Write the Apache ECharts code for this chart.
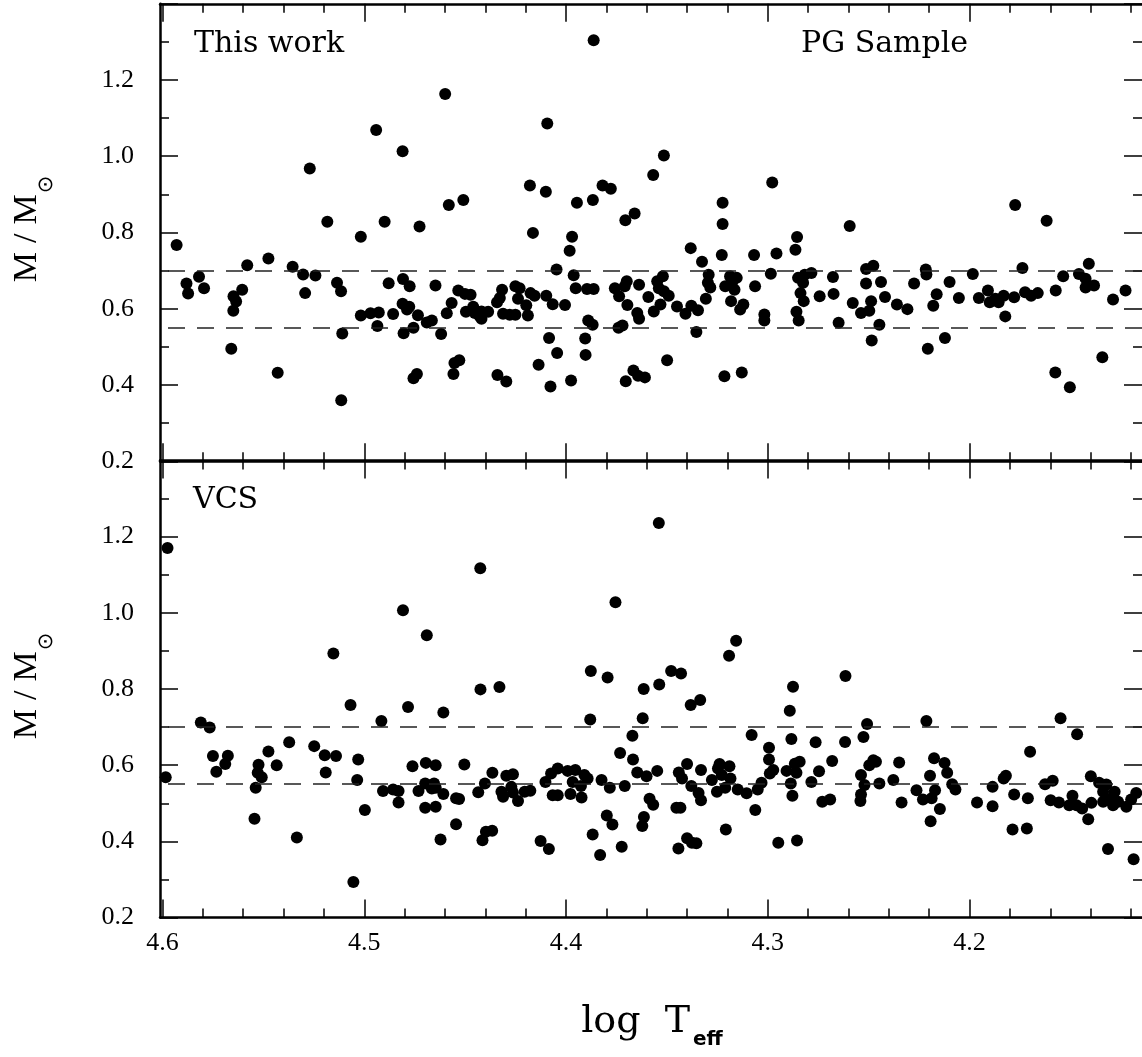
<!DOCTYPE html>
<html><head><meta charset="utf-8">
<script src="https://cdn.jsdelivr.net/npm/echarts@6/dist/echarts.min.js"></script>
<style>html,body{margin:0;padding:0;background:#fff}#chart{width:1142px;height:1057px}</style>
</head><body><div id="chart"></div>
<script>
// ---- data: top panel ("This work", PG sample) ----
const topTeff = [
4.5930,4.5881,4.5873,4.5819,4.5794,4.5580,4.5605,4.5648,4.5635,4.5649,4.5659,4.5475,4.5429,4.5355,4.5303,4.5242,4.5293,4.5270,4.5183,4.5135,4.5115,4.5109,4.5114,4.5017,4.5017,4.4969,4.4928,4.4935,4.4941,4.4899,4.4879,4.4857,
4.3863,4.4599,4.4093,4.4810,4.4179,4.4100,4.4581,4.4509,4.4726,4.4164,4.3946,4.3867,4.3819,4.3778,4.3970,4.3982,4.4047,4.3962,4.3952,4.3706,4.3660,
4.4808,4.4775,4.4810,4.4777,4.4788,4.4734,4.4805,4.4756,4.4647,4.4690,4.4665,4.4619,4.4591,4.4567,4.4534,4.4501,4.4473,4.4496,4.4460,4.4452,4.4427,4.4419,4.4386,4.4419,
4.4756,4.4739,4.4558,4.4553,4.4529,4.4340,4.4296,4.4317,4.4328,4.4342,4.4312,4.4279,4.4251,4.4189,4.4251,4.4230,4.4238,4.4197,4.4176,4.4156,4.4098,4.4066,4.4005,
4.4084,4.4044,4.4136,4.4077,4.3975,4.3905,4.3903,4.3896,4.3863,4.3890,4.3868,4.3758,4.3737,4.3709,4.3699,4.3696,4.3740,4.3720,4.3704,4.3666,4.3643,
4.3515,4.3568,4.2978,4.3224,4.3224,4.3228,4.3382,4.3326,4.3068,4.2957,4.2855,4.2863,4.2594,4.3638,4.3647,4.3638,4.3592,4.3565,4.3532,4.3548,4.3520,4.3540,4.3515,4.3491,4.3499,
4.3450,4.3408,4.3379,4.3346,4.3354,4.3293,4.3297,4.3285,4.3307,4.3211,4.3187,4.3154,4.3178,4.3165,4.3182,4.3137,4.3121,4.3063,4.2985,4.3017,4.3017,4.3215,4.3129,4.3609,
4.2850,4.2817,4.2784,4.2825,4.2838,4.2822,4.2858,4.2847,4.2743,4.2677,4.2674,4.2649,4.2579,4.2538,4.2513,4.2477,4.2513,4.2488,4.2497,4.2485,
4.2439,4.2447,4.2419,4.2360,4.2308,4.2275,4.2217,4.2214,4.2163,4.2180,4.2099,4.2053,4.2207,4.2122,4.1984,4.1954,4.1909,4.1900,4.1872,4.1856,4.1831,4.1823,4.1779,4.1774,
4.1738,4.1725,4.1695,4.1662,4.1618,4.1573,4.1536,4.1575,4.1503,4.1458,4.1409,4.1425,4.1425,4.1383,4.1342,4.1289,4.1227
];
const topMass = [
0.767,0.666,0.640,0.684,0.654,0.714,0.650,0.633,0.619,0.595,0.495,0.732,0.432,0.710,0.690,0.687,0.641,0.968,0.828,0.668,0.646,0.535,0.360,0.789,0.582,0.588,0.590,0.555,1.069,0.828,0.667,0.586,
1.304,1.163,1.086,1.013,0.923,0.907,0.872,0.885,0.816,0.799,0.878,0.885,0.923,0.915,0.789,0.752,0.703,0.688,0.654,0.832,0.850,
0.678,0.659,0.613,0.605,0.598,0.583,0.536,0.550,0.661,0.564,0.569,0.534,0.588,0.615,0.648,0.639,0.637,0.592,0.605,0.589,0.580,0.593,0.592,0.574,
0.418,0.429,0.429,0.458,0.465,0.426,0.409,0.650,0.628,0.617,0.587,0.584,0.584,0.582,0.659,0.654,0.626,0.609,0.641,0.634,0.634,0.612,0.610,
0.523,0.484,0.453,0.396,0.412,0.522,0.479,0.652,0.652,0.569,0.558,0.654,0.633,0.659,0.672,0.610,0.550,0.556,0.410,0.438,0.424,
1.002,0.951,0.931,0.878,0.822,0.741,0.759,0.723,0.741,0.745,0.788,0.755,0.817,0.663,0.589,0.574,0.631,0.593,0.611,0.672,0.685,0.654,0.646,0.634,0.465,
0.606,0.587,0.608,0.596,0.539,0.689,0.668,0.656,0.626,0.659,0.685,0.681,0.667,0.650,0.620,0.598,0.611,0.659,0.692,0.585,0.569,0.423,0.433,0.420,
0.681,0.689,0.694,0.668,0.641,0.620,0.592,0.569,0.633,0.683,0.639,0.563,0.615,0.589,0.704,0.713,0.666,0.620,0.595,0.517,
0.670,0.558,0.631,0.611,0.599,0.666,0.703,0.690,0.638,0.608,0.670,0.628,0.495,0.523,0.691,0.628,0.648,0.617,0.626,0.617,0.634,0.580,0.630,0.872,
0.707,0.643,0.634,0.641,0.831,0.648,0.685,0.433,0.394,0.691,0.718,0.679,0.656,0.661,0.473,0.624,0.648
];
// ---- data: bottom panel (VCS) ----
const vcsTeff = [
4.5975,4.5984,4.5810,4.5766,4.5750,4.5733,4.5689,4.5676,4.5524,4.5528,4.5508,4.5538,4.5544,4.5475,4.5434,4.5372,4.5334,4.5248,4.5196,4.5140,4.5191,4.5153,4.5068,4.5030,4.5035,4.4997,4.5054,4.4915,4.4907,4.4857,
4.4808,4.4425,4.4690,4.3755,4.4783,4.4608,4.4424,4.4330,4.3877,4.3794,4.3880,4.3671,4.3732,4.3668,4.4830,4.4830,4.4761,4.4695,4.4646,4.4731,4.4698,4.4654,4.4665,4.4646,4.4608,
4.4698,4.4646,4.4545,4.4530,4.4545,4.4622,4.4504,4.4435,4.4402,4.4365,4.4414,4.4397,4.4366,4.4296,4.4263,4.4320,4.4312,4.4271,4.4263,4.4238,4.4205,4.4177,4.4102,4.4074,
4.4041,4.3992,4.3954,4.3967,4.3909,4.3893,4.3926,4.4066,4.4041,4.3978,4.3923,4.3824,4.3783,4.3709,4.4126,4.4085,4.3868,4.3831,4.3798,4.3770,4.3724,
4.3540,4.3157,4.3192,4.3615,4.3538,4.3479,4.3430,4.3382,4.3335,4.3620,4.2875,4.2891,4.2615,4.2508,4.3647,4.3601,4.3548,4.3586,4.3568,4.3614,4.3622,4.3441,4.3425,4.3400,4.3379,
4.3343,4.3331,4.3453,4.3433,4.3400,4.3376,4.3354,4.3443,4.3331,4.3277,4.3252,4.3239,4.3247,4.3190,4.3228,4.3185,4.3211,4.3208,4.3149,4.3105,4.3050,4.3031,4.3062,4.3080,
4.2994,4.2994,4.2973,4.2990,4.2948,4.2855,4.2883,4.2907,4.2866,4.2842,4.2858,4.2886,4.2878,4.2763,4.2746,4.2784,4.2681,4.2730,4.2691,4.2617,4.2526,4.2538,4.2521,4.2538,4.2541,4.2497,4.2477,
4.2464,4.2447,4.2349,4.2378,4.2337,4.2214,4.2176,4.2124,4.2111,4.2196,4.2086,4.2070,4.2263,4.2171,4.2231,4.2188,4.2147,4.2193,4.1963,4.1886,4.1886,4.1820,4.1831,4.1779,4.1711,4.1700,4.1787,
4.1716,4.1626,4.1588,4.1598,4.1557,4.1549,4.1467,4.1490,4.1506,4.1470,4.1442,4.1399,4.1396,4.1412,4.1358,4.1322,4.1338,4.1338,4.1281,4.1297,4.1289,4.1264,4.1223,4.1199,4.1174,4.1314,4.1187
];
const vcsMass = [
1.170,0.568,0.712,0.699,0.624,0.583,0.603,0.625,0.601,0.580,0.568,0.541,0.459,0.636,0.600,0.660,0.410,0.650,0.626,0.624,0.581,0.893,0.758,0.615,0.561,0.482,0.293,0.716,0.532,0.536,
1.007,1.117,0.941,1.028,0.753,0.738,0.799,0.805,0.847,0.830,0.720,0.677,0.632,0.615,0.532,0.502,0.597,0.606,0.600,0.532,0.552,0.552,0.539,0.541,0.524,
0.488,0.491,0.513,0.511,0.445,0.405,0.602,0.529,0.552,0.580,0.403,0.425,0.428,0.572,0.576,0.530,0.517,0.543,0.528,0.506,0.530,0.533,0.556,0.578,
0.591,0.585,0.587,0.556,0.574,0.565,0.545,0.521,0.521,0.524,0.515,0.561,0.541,0.545,0.401,0.380,0.418,0.364,0.468,0.444,0.386,
1.236,0.927,0.887,0.800,0.812,0.847,0.841,0.758,0.771,0.723,0.806,0.743,0.834,0.708,0.581,0.571,0.585,0.512,0.496,0.464,0.440,0.581,0.565,0.603,0.545,
0.527,0.508,0.488,0.488,0.408,0.396,0.395,0.381,0.587,0.561,0.530,0.603,0.591,0.597,0.574,0.565,0.541,0.431,0.536,0.526,0.536,0.554,0.482,0.679,
0.646,0.615,0.587,0.578,0.396,0.402,0.669,0.585,0.604,0.609,0.580,0.552,0.520,0.660,0.584,0.556,0.611,0.504,0.510,0.661,0.674,0.574,0.548,0.523,0.506,0.600,0.613,
0.609,0.552,0.607,0.561,0.502,0.716,0.618,0.606,0.580,0.572,0.550,0.536,0.534,0.534,0.510,0.513,0.485,0.453,0.502,0.543,0.492,0.572,0.565,0.523,0.513,0.635,0.431,
0.434,0.550,0.559,0.508,0.502,0.723,0.681,0.520,0.495,0.495,0.486,0.571,0.501,0.458,0.554,0.549,0.530,0.504,0.530,0.513,0.495,0.504,0.491,0.510,0.527,0.380,0.353
];
// ---- axes / ticks ----
const xMajorTicks = [4.6, 4.5, 4.4, 4.3, 4.2];
const xMinorTicks = [4.58,4.56,4.54,4.52,4.48,4.46,4.44,4.42,4.38,4.36,4.34,4.32,4.28,4.26,4.24,4.22,4.18,4.16,4.14,4.12];
const yMajorTicks = [0.2, 0.4, 0.6, 0.8, 1.0, 1.2, 1.4];
const yLabelTicks = [0.2, 0.4, 0.6, 0.8, 1.0, 1.2];
const yMinorTicks = [0.3, 0.5, 0.7, 0.9, 1.1, 1.3];
const refLines = [0.7, 0.55];
const panelLabels = ['This work', 'PG Sample', 'VCS'];

const X_MIN = 4.11454, X_MAX = 4.60123, Y_MIN = 0.2, Y_MAX = 1.4;
const LBL = {color:'#000', fontSize:26, fontFamily:'Liberation Serif'};

function xAx(grid, pos, major, labels, showLine) {
  return {type:'value', gridIndex:grid, position:pos, inverse:true, min:X_MIN, max:X_MAX,
    axisLine:{show:showLine, onZero:false, lineStyle:{color:'#000', width:2.5}},
    axisTick:{show:true, inside:true, length: major ? 18 : 9, customValues: major ? xMajorTicks : xMinorTicks,
      lineStyle:{color:'#000', width:1.5}},
    axisLabel: Object.assign({show:labels, customValues:xMajorTicks, formatter:v=>(+v).toFixed(1), margin:13}, LBL),
    splitLine:{show:false}};
}
function yAx(grid, pos, major, labels, showLine) {
  return {type:'value', gridIndex:grid, position:pos, min:Y_MIN, max:Y_MAX,
    axisLine:{show:showLine, onZero:false, lineStyle:{color:'#000', width:2.5}},
    axisTick:{show:true, inside:true, length: major ? 18 : 9, customValues: major ? yMajorTicks : yMinorTicks,
      lineStyle:{color:'#000', width:1.5}},
    axisLabel: Object.assign({show:labels, customValues:yLabelTicks, formatter:v=>(+v).toFixed(1), margin:26}, LBL),
    splitLine:{show:false}};
}

const markLine = {
  symbol:'none', silent:true, animation:false,
  label:{show:false},
  lineStyle:{type:[17,12], color:'#222', width:1.5, opacity:1},
  data: refLines.map(v => ({yAxis: v}))
};

function mkSeries(xs, ys, xi, yi) {
  return {type:'scatter', xAxisIndex:xi, yAxisIndex:yi, symbol:'circle', symbolSize:12,
    itemStyle:{color:'#000', opacity:1}, silent:true, animation:false, clip:true,
    data: xs.map((x, i) => [x, ys[i]]), markLine: markLine};
}

const yName = (y) => ({type:'text', x:27, y:y, rotation:Math.PI/2,
  style:{text:'{m|M}{s|/}{m|M}{o|⊙}', textAlign:'center', textVerticalAlign:'middle', align:'center', verticalAlign:'middle',
    rich:{
      m:{fontSize:34, fontFamily:'Liberation Serif', fill:'#000', color:'#000'},
      s:{fontSize:34, fontFamily:'Liberation Serif', fill:'#000', color:'#000', padding:[0,9,0,9]},
      o:{fontSize:21, fontFamily:'DejaVu Sans', fill:'#000', color:'#000', padding:[40,0,0,1]}
    }}});

const chart = echarts.init(document.getElementById('chart'), null, {renderer:'canvas'});
chart.setOption({
  animation:false,
  backgroundColor:'#fff',
  grid:[
    {left:160, width:987.5, top:3.75, height:457.5},
    {left:160, width:987.5, top:460.5, height:457}
  ],
  xAxis:[
    xAx(0,'bottom',true,false,true), xAx(0,'bottom',false,false,false),
    xAx(0,'top',true,false,true), xAx(0,'top',false,false,false),
    xAx(1,'bottom',true,true,true), xAx(1,'bottom',false,false,false),
    xAx(1,'top',true,false,true), xAx(1,'top',false,false,false)
  ],
  yAxis:[
    yAx(0,'left',true,true,true), yAx(0,'left',false,false,false),
    yAx(0,'right',true,false,false), yAx(0,'right',false,false,false),
    yAx(1,'left',true,true,true), yAx(1,'left',false,false,false),
    yAx(1,'right',true,false,false), yAx(1,'right',false,false,false)
  ],
  series:[
    mkSeries(topTeff, topMass, 0, 0),
    mkSeries(vcsTeff, vcsMass, 4, 4)
  ],
  graphic:[
    {type:'text', x:194, y:44, style:{text:panelLabels[0], fill:'#000', fontSize:30, fontFamily:'DejaVu Serif', textAlign:'left', textVerticalAlign:'middle', align:'left', verticalAlign:'middle'}},
    {type:'text', x:801, y:44, style:{text:panelLabels[1], fill:'#000', fontSize:30, fontFamily:'DejaVu Serif', textAlign:'left', textVerticalAlign:'middle', align:'left', verticalAlign:'middle'}},
    {type:'text', x:193, y:500, style:{text:panelLabels[2], fill:'#000', fontSize:30, fontFamily:'DejaVu Serif', textAlign:'left', textVerticalAlign:'middle', align:'left', verticalAlign:'middle'}},
    yName(229), yName(686),
    {type:'text', x:652, y:1022, style:{text:'{a|log  T}{b|eff}', textAlign:'center', textVerticalAlign:'middle', align:'center', verticalAlign:'middle',
      rich:{
        a:{fontSize:38, fontFamily:'DejaVu Serif', fill:'#000', color:'#000'},
        b:{fontSize:20, fontFamily:'DejaVu Sans', fontWeight:'bold', fill:'#000', color:'#000', padding:[36,0,0,3]}
      }}}
  ]
});
</script>
</body></html>
